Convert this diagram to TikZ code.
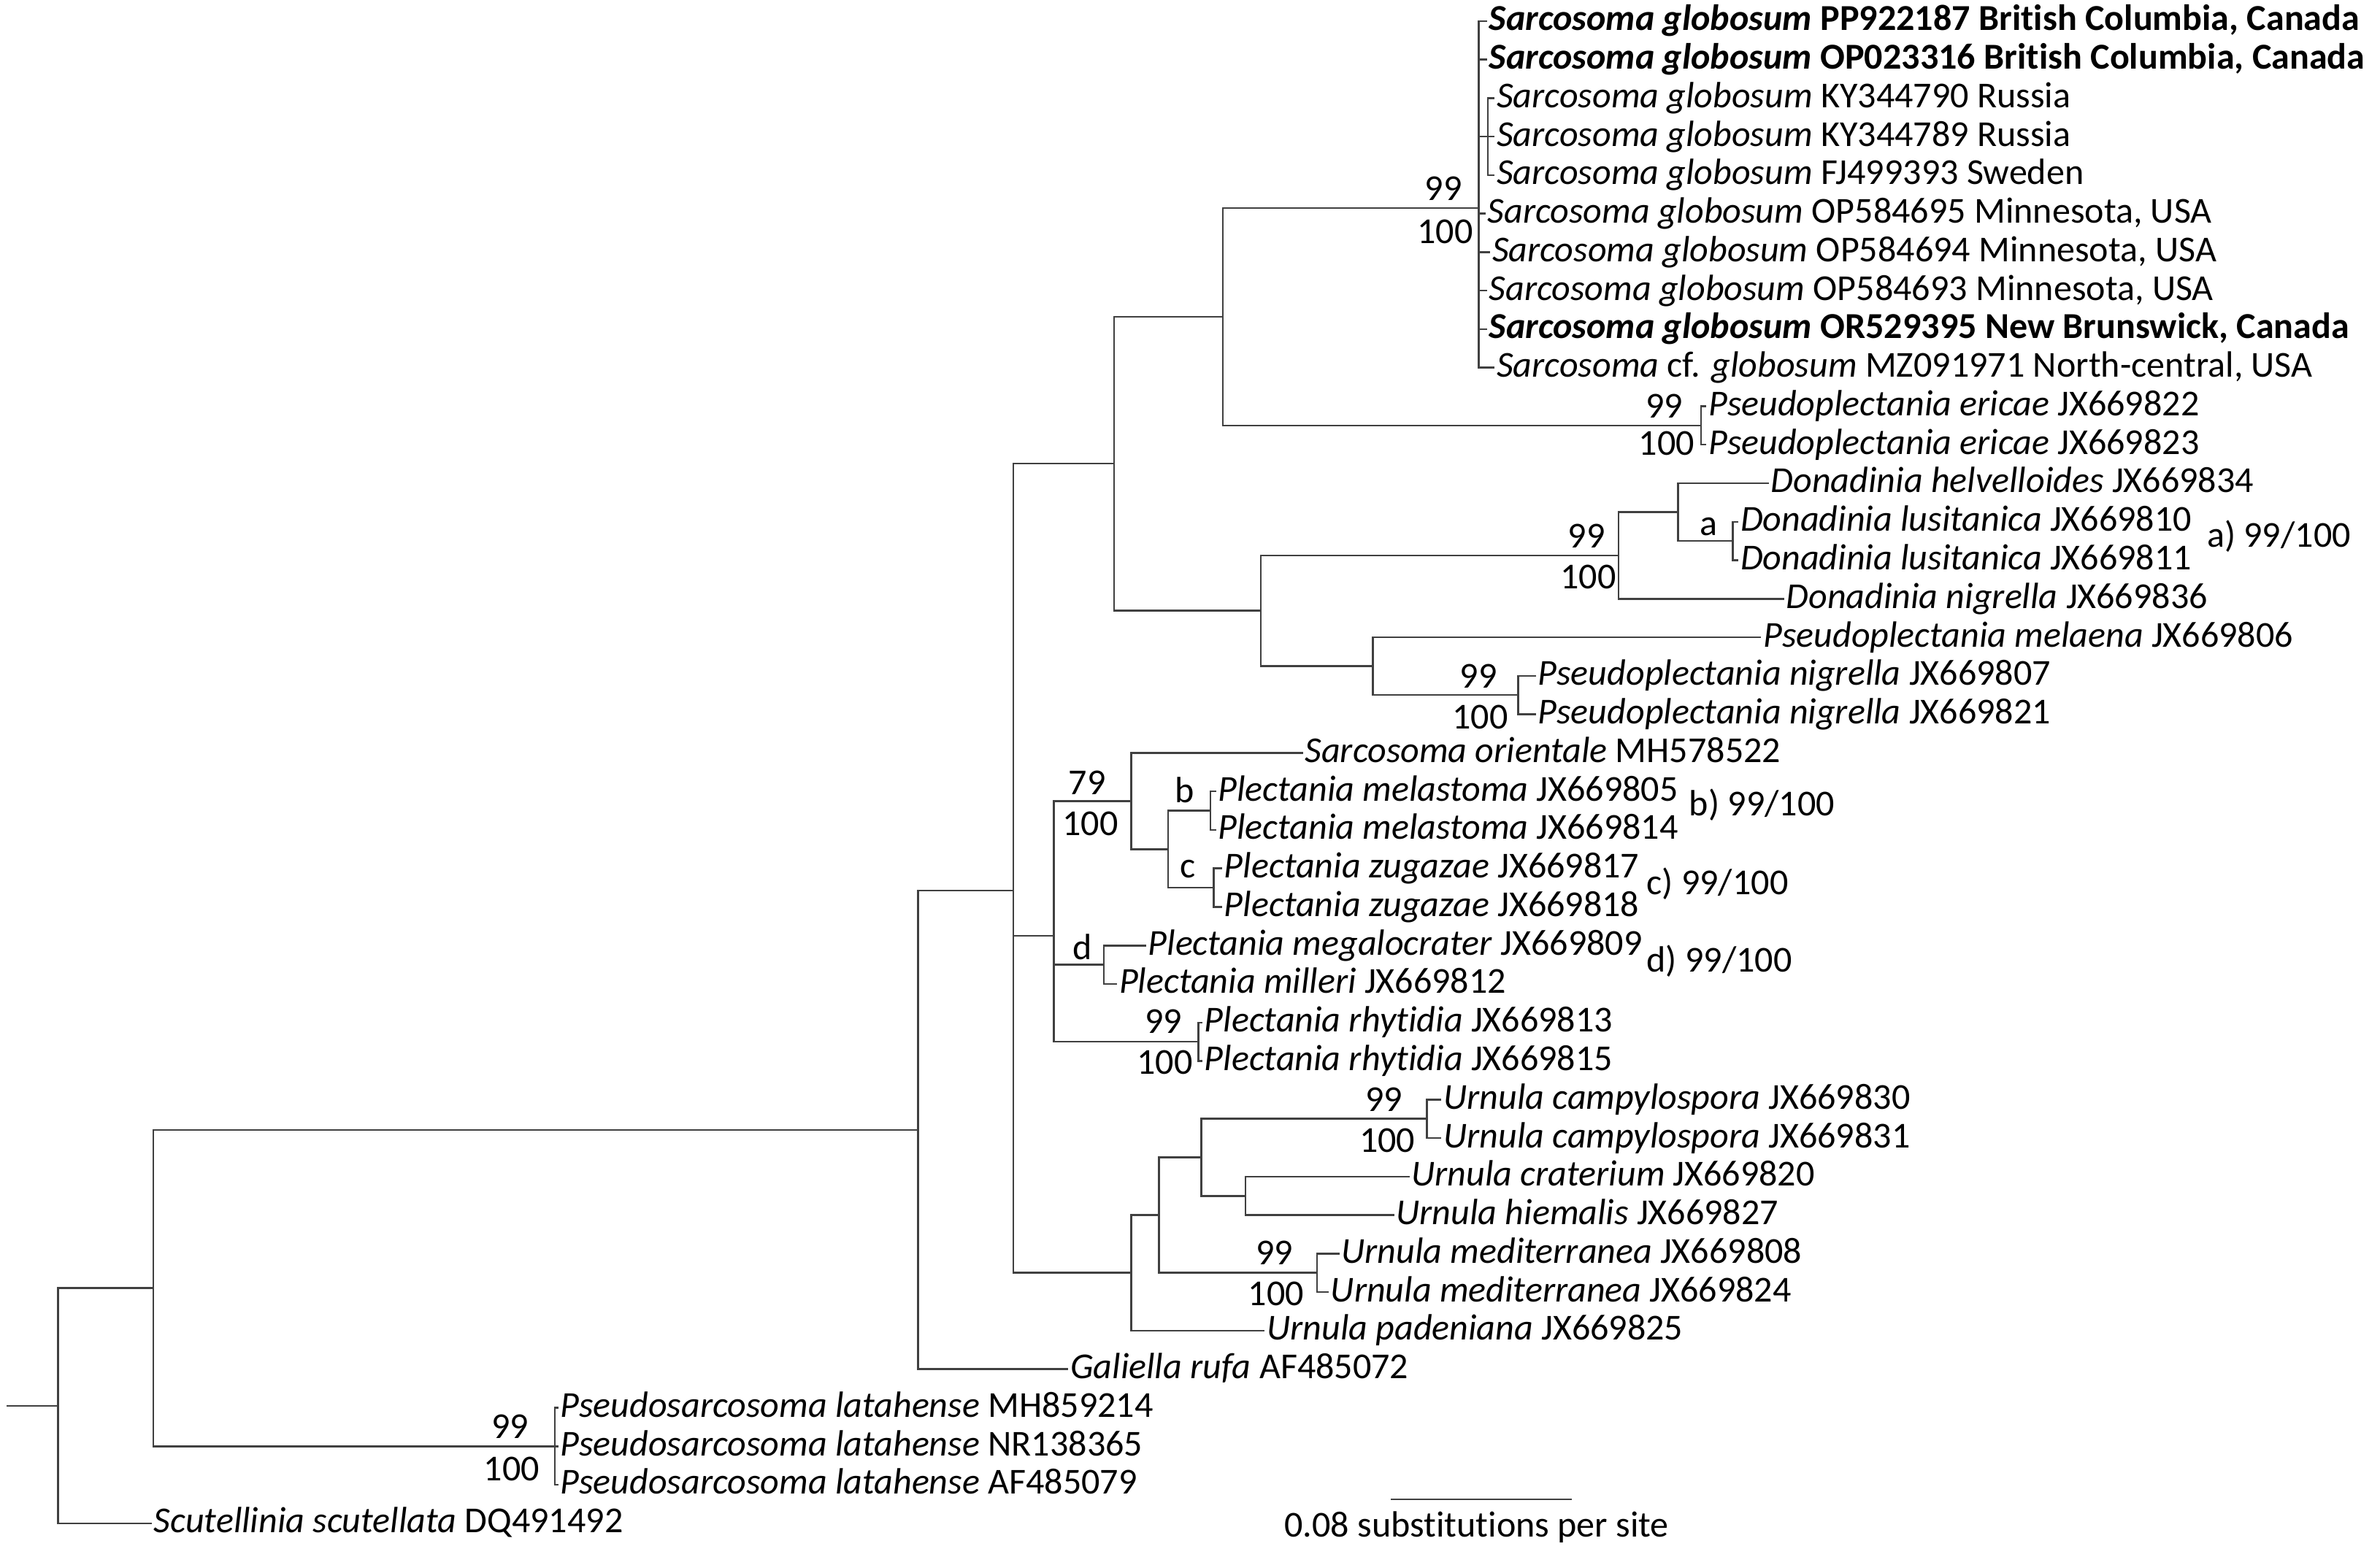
\documentclass[tikz,border=0pt]{standalone}
\usepackage{fontspec}
\setmainfont{Carlito}[Ligatures=CommonOff]
\begin{document}
\begin{tikzpicture}[x=0.5pt,y=-0.5pt,
  br/.style={line width=0.6pt, draw=black!75, line cap=rect},
  leaf/.style={anchor=base west, inner sep=0pt, xshift=0.8pt, yshift=-3.1pt, font=\fontsize{12}{14}\selectfont},
  bs/.style={anchor=center, inner sep=0pt, font=\fontsize{12}{14}\selectfont},
  note/.style={anchor=west, inner sep=0pt, font=\fontsize{12}{14}\selectfont}]
\useasboundingbox (0,0) rectangle (1563,1022.2);
% tips
\foreach \i/\x in {1/976,2/976,3/981,4/981,5/981,6/975,7/978,8/976,9/976,10/981,
  11/1120,12/1120,13/1161,14/1141,15/1141,16/1171,17/1156,18/1008,19/1008,20/855,
  21/798,22/798,23/802,24/802,25/752,26/733,27/789,28/789,29/946,30/946,
  31/925,32/915,33/879,34/872,35/830,36/701,37/366,38/366,39/366,40/99}
  \coordinate (t\i) at (\x,{13.8+(\i-1)*25.3});
% internal nodes
\coordinate (r0) at (4.8,923.3);
\coordinate (R) at (38,923.3);
\coordinate (N1) at (100.7,846);
\coordinate (N2) at (603,742.2);
\coordinate (N3) at (665.5,585);
\coordinate (N4) at (731.7,304.5);
\coordinate (N5) at (803,208);
\coordinate (A) at (971,136.6);
\coordinate (S3) at (977,89.7);
\coordinate (E) at (1117,279.5);
\coordinate (N6) at (828,401);
\coordinate (D) at (1063,364.8);
\coordinate (D1) at (1102,336.4);
\coordinate (La) at (1138,355.3);
\coordinate (M) at (901.5,437.5);
\coordinate (PN) at (997,456.5);
\coordinate (PL) at (692,614.6);
\coordinate (P79) at (743,526.1);
\coordinate (BC) at (767,557.8);
\coordinate (B) at (795,532.5);
\coordinate (C) at (797,583);
\coordinate (Dn) at (725,633.6);
\coordinate (Rh) at (787,684.2);
\coordinate (U) at (743,836);
\coordinate (U2) at (761,798.1);
\coordinate (U1) at (789,760.2);
\coordinate (Cp) at (937,734.8);
\coordinate (Cr) at (818,785.5);
\coordinate (Md) at (865,836);
\coordinate (P) at (364.4,949.9);
% horizontal branches
\draw[br] (r0) -- (R);
\foreach \c/\p in {t1/A,t2/A,t6/A,t7/A,t8/A,t9/A,t10/A,t3/S3,t4/S3,t5/S3,S3/A,
  t11/E,t12/E,t13/D1,t14/La,t15/La,t16/D,t17/M,t18/PN,t19/PN,t20/P79,
  t21/B,t22/B,t23/C,t24/C,t25/Dn,t26/Dn,t27/Rh,t28/Rh,t29/Cp,t30/Cp,
  t31/Cr,t32/Cr,t33/Md,t34/Md,t35/U,t36/N2,t37/P,t38/P,t39/P,t40/R,
  A/N5,E/N5,N5/N4,N6/N4,D/N6,M/N6,D1/D,La/D1,PN/M,N4/N3,PL/N3,U/N3,
  P79/PL,Dn/PL,Rh/PL,BC/P79,B/BC,C/BC,U2/U,U1/U2,Md/U2,Cp/U1,Cr/U1,
  N3/N2,N2/N1,P/N1,N1/R}
  \draw[br] (\p |- \c) -- (\c);
% vertical lines
\foreach \n/\a/\b in {A/t1/t10,S3/t3/t5,E/t11/t12,N5/A/E,N4/N5/N6,N6/D/M,D/D1/t16,
  D1/t13/La,La/t14/t15,M/t17/PN,PN/t18/t19,N3/N4/U,PL/P79/Rh,P79/t20/BC,BC/B/C,
  B/t21/t22,C/t23/t24,Dn/t25/t26,Rh/t27/t28,U/U2/t35,U2/U1/Md,U1/Cp/Cr,Cp/t29/t30,
  Cr/t31/t32,Md/t33/t34,N2/N3/t36,N1/N2/P,P/t37/t39,R/N1/t40}
  \draw[br] (\n |- \a) -- (\n |- \b);
% leaf labels
\node[leaf] (l1) at (t1) {\textbf{\textit{Sarcosoma globosum} PP922187 British Columbia, Canada}};
\node[leaf] (l2) at (t2) {\textbf{\textit{Sarcosoma globosum} OP023316 British Columbia, Canada}};
\node[leaf] (l3) at (t3) {\textit{Sarcosoma globosum} KY344790 Russia};
\node[leaf] (l4) at (t4) {\textit{Sarcosoma globosum} KY344789 Russia};
\node[leaf] (l5) at (t5) {\textit{Sarcosoma globosum} FJ499393 Sweden};
\node[leaf] (l6) at (t6) {\textit{Sarcosoma globosum} OP584695 Minnesota, USA};
\node[leaf] (l7) at (t7) {\textit{Sarcosoma globosum} OP584694 Minnesota, USA};
\node[leaf] (l8) at (t8) {\textit{Sarcosoma globosum} OP584693 Minnesota, USA};
\node[leaf] (l9) at (t9) {\textbf{\textit{Sarcosoma globosum} OR529395 New Brunswick, Canada}};
\node[leaf] (l10) at (t10) {\textit{Sarcosoma} cf. \textit{globosum} MZ091971 North-central, USA};
\node[leaf] (l11) at (t11) {\textit{Pseudoplectania ericae} JX669822};
\node[leaf] (l12) at (t12) {\textit{Pseudoplectania ericae} JX669823};
\node[leaf] (l13) at (t13) {\textit{Donadinia helvelloides} JX669834};
\node[leaf] (l14) at (t14) {\textit{Donadinia lusitanica} JX669810};
\node[leaf] (l15) at (t15) {\textit{Donadinia lusitanica} JX669811};
\node[leaf] (l16) at (t16) {\textit{Donadinia nigrella} JX669836};
\node[leaf] (l17) at (t17) {\textit{Pseudoplectania melaena} JX669806};
\node[leaf] (l18) at (t18) {\textit{Pseudoplectania nigrella} JX669807};
\node[leaf] (l19) at (t19) {\textit{Pseudoplectania nigrella} JX669821};
\node[leaf] (l20) at (t20) {\textit{Sarcosoma orientale} MH578522};
\node[leaf] (l21) at (t21) {\textit{Plectania melastoma} JX669805};
\node[leaf] (l22) at (t22) {\textit{Plectania melastoma} JX669814};
\node[leaf] (l23) at (t23) {\textit{Plectania zugazae} JX669817};
\node[leaf] (l24) at (t24) {\textit{Plectania zugazae} JX669818};
\node[leaf] (l25) at (t25) {\textit{Plectania megalocrater} JX669809};
\node[leaf] (l26) at (t26) {\textit{Plectania milleri} JX669812};
\node[leaf] (l27) at (t27) {\textit{Plectania rhytidia} JX669813};
\node[leaf] (l28) at (t28) {\textit{Plectania rhytidia} JX669815};
\node[leaf] (l29) at (t29) {\textit{Urnula campylospora} JX669830};
\node[leaf] (l30) at (t30) {\textit{Urnula campylospora} JX669831};
\node[leaf] (l31) at (t31) {\textit{Urnula craterium} JX669820};
\node[leaf] (l32) at (t32) {\textit{Urnula hiemalis} JX669827};
\node[leaf] (l33) at (t33) {\textit{Urnula mediterranea} JX669808};
\node[leaf] (l34) at (t34) {\textit{Urnula mediterranea} JX669824};
\node[leaf] (l35) at (t35) {\textit{Urnula padeniana} JX669825};
\node[leaf] (l36) at (t36) {\textit{Galiella rufa} AF485072};
\node[leaf] (l37) at (t37) {\textit{Pseudosarcosoma latahense} MH859214};
\node[leaf] (l38) at (t38) {\textit{Pseudosarcosoma latahense} NR138365};
\node[leaf] (l39) at (t39) {\textit{Pseudosarcosoma latahense} AF485079};
\node[leaf] (l40) at (t40) {\textit{Scutellinia scutellata} DQ491492};
% support values
\node[bs] (sA1) at (948,124) {99};
\node[bs] (sA2) at (949,152) {100};
\node[bs] (sE1) at (1093,266.5) {99};
\node[bs] (sE2) at (1094.5,291) {100};
\node[bs] (sD1) at (1042,352) {99};
\node[bs] (sD2) at (1043,379) {100};
\node[bs] (sPN1) at (971,444) {99};
\node[bs] (sPN2) at (972,471) {100};
\node[bs] (sP791) at (714,514) {79};
\node[bs] (sP792) at (716,541) {100};
\node[bs] (sRh1) at (764,671) {99};
\node[bs] (sRh2) at (765,698) {100};
\node[bs] (sCp1) at (909,722) {99};
\node[bs] (sCp2) at (911,749) {100};
\node[bs] (sMd1) at (837,823) {99};
\node[bs] (sMd2) at (838,850) {100};
\node[bs] (sP1) at (335,937) {99};
\node[bs] (sP2) at (336,965) {100};
% clade letters
\node[bs] (ka) at (1122,346) {a};
\node[bs] (kb) at (778,519) {b};
\node[bs] (kc) at (780,571) {c};
\node[bs] (kd) at (711,622) {d};
\node[note] (na) at (1449,352) {a) 99/100};
\node[note] (nb) at (1109,528.5) {b) 99/100};
\node[note] (nc) at (1081,580.5) {c) 99/100};
\node[note] (nd) at (1081,631.5) {d) 99/100};
% scale bar
\coordinate (sb1) at (914,984.8);
\coordinate (sb2) at (1031.4,984.8);
\draw[br] (sb1) -- (sb2);
\node[anchor=base, inner sep=0pt, font=\fontsize{12}{14}\selectfont] (sbt) at (969.8,1009.3) {0.08 substitutions per site};
\end{tikzpicture}
\end{document}
